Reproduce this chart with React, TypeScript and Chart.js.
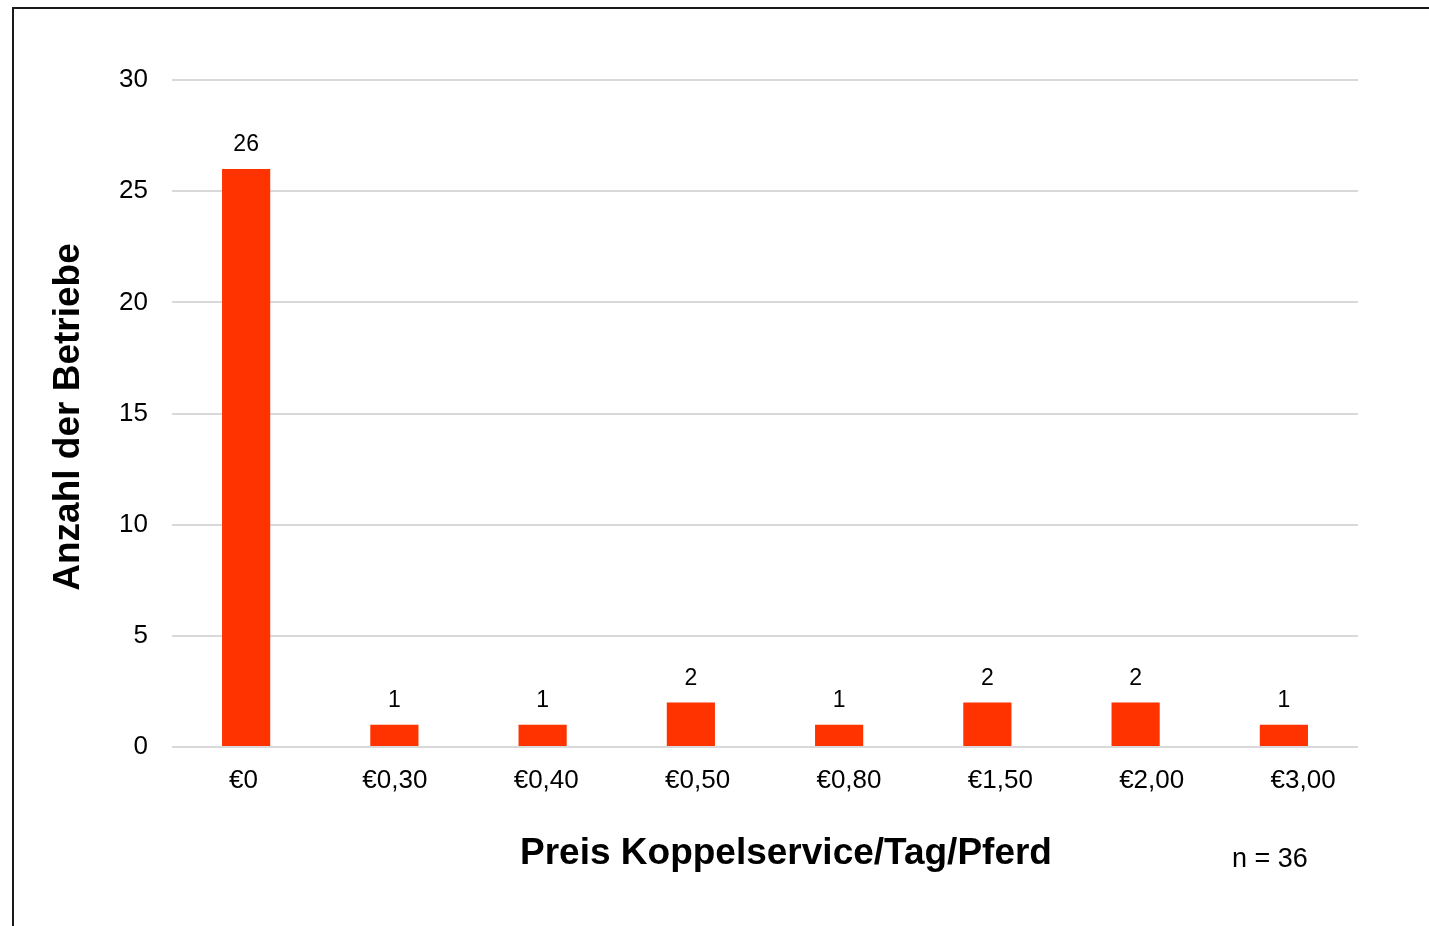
import React, { useEffect, useRef } from "react";
import { Chart, registerables } from "chart.js";

Chart.register(...registerables);

const categories = ["€0", "€0,30", "€0,40", "€0,50", "€0,80", "€1,50", "€2,00", "€3,00"];
const counts = [26, 1, 1, 2, 1, 2, 2, 1];
const yTicks = [0, 5, 10, 15, 20, 25, 30];
const xTitle = "Preis Koppelservice/Tag/Pferd";
const yTitle = "Anzahl der Betriebe";
const nNote = "n = 36";

const FONT = "'Liberation Sans', Arial, sans-serif";

const decorPlugin = {
  id: "decor",
  beforeDraw(chart: any) {
    const ctx = chart.ctx;
    ctx.save();
    ctx.fillStyle = "#ffffff";
    ctx.fillRect(0, 0, chart.width, chart.height);
    ctx.strokeStyle = "#1a1a1a";
    ctx.lineWidth = 2;
    ctx.strokeRect(13, 8, chart.width + 20, chart.height + 20);
    ctx.restore();
  },
  afterDatasetsDraw(chart: any) {
    const ctx = chart.ctx;
    const meta = chart.getDatasetMeta(0);
    ctx.save();
    ctx.fillStyle = "#000000";
    ctx.font = `23px ${FONT}`;
    ctx.textAlign = "center";
    ctx.textBaseline = "middle";
    meta.data.forEach((bar: any, i: number) => {
      ctx.fillText(String(counts[i]), bar.x, bar.y - 24);
    });
    ctx.font = `bold 37px ${FONT}`;
    ctx.textAlign = "center";
    ctx.textBaseline = "middle";
    ctx.fillText(xTitle, 786, 854);
    ctx.save();
    ctx.translate(69, 417);
    ctx.rotate(-Math.PI / 2);
    ctx.fillText(yTitle, 0, 0);
    ctx.restore();
    ctx.font = `27px ${FONT}`;
    ctx.textAlign = "left";
    ctx.fillText(nNote, 1232, 860);
    ctx.restore();
  },
};

export default function App() {
  const ref = useRef<HTMLCanvasElement | null>(null);
  useEffect(() => {
    if (!ref.current) return;
    const chart = new Chart(ref.current, {
      type: "bar",
      data: {
        labels: categories,
        datasets: [
          {
            data: counts,
            backgroundColor: "#ff3300",
            borderWidth: 0,
            categoryPercentage: 1,
            barPercentage: 0.325,
          },
        ],
      },
      options: {
        responsive: false,
        animation: false,
        devicePixelRatio: 1,
        layout: { padding: { left: 0, right: 71, top: 80, bottom: 0 } },
        plugins: { legend: { display: false }, tooltip: { enabled: false }, title: { display: false } },
        scales: {
          x: {
            display: false,
          },
          xLab: {
            type: "linear",
            position: "bottom",
            offset: false,
            min: -0.4724,
            max: 7.363,
            afterBuildTicks(scale: any) {
              scale.ticks = categories.map((_, i) => ({ value: i }));
            },
            grid: { display: false, drawTicks: false, offset: false },
            border: { display: false },
            ticks: {
              color: "#000",
              font: { family: FONT, size: 26 },
              padding: 18,
              maxRotation: 0,
              autoSkip: false,
              callback: (_v: any, i: number) => categories[i],
            },
            afterFit(scale: any) {
              scale.height = 179;
            },
          },
          y: {
            min: 0,
            max: 30,
            afterBuildTicks(scale: any) {
              scale.ticks = yTicks.map((v) => ({ value: v }));
            },
            grid: { color: "#d9d9d9", lineWidth: 2, drawTicks: false },
            border: { display: false },
            ticks: { color: "#000", font: { family: FONT, size: 26 }, padding: 24 },
            afterFit(scale: any) {
              scale.width = 172;
            },
          },
        } as any,
      },
      plugins: [decorPlugin],
    });
    return () => chart.destroy();
  }, []);
  return (
    <div style={{ position: "absolute", left: 0, top: 0, width: 1429, height: 926 }}>
      <canvas ref={ref} width={1429} height={926} style={{ display: "block" }} />
    </div>
  );
}
